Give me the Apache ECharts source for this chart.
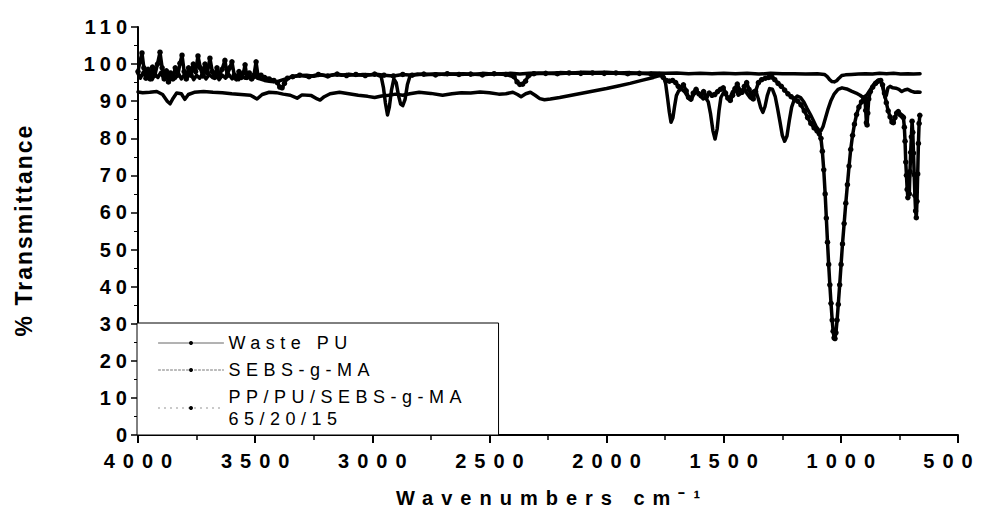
<!DOCTYPE html>
<html>
<head>
<meta charset="utf-8">
<script src="https://cdn.jsdelivr.net/npm/echarts@6.0.0/dist/echarts.min.js"></script>
<style>
  html, body { margin: 0; padding: 0; background: #fff; }
  #chart { width: 981px; height: 519px; }
</style>
</head>
<body>
<div id="chart"></div>
<script>
// FTIR spectra: [wavenumber (cm-1), % transmittance]
const wastePu = [[4000,92.5],[3980,92.3],[3950,92.4],[3920,92.6],[3895,91.8],[3875,90.0],[3863,89.3],[3850,90.8],[3835,92.2],[3815,92.0],[3800,90.5],[3785,91.8],[3760,92.4],[3720,92.6],[3680,92.4],[3640,92.3],[3600,92.0],[3560,91.8],[3520,91.6],[3492,90.6],[3470,91.8],[3440,92.4],[3410,92.3],[3380,91.9],[3350,91.6],[3321,90.8],[3300,91.7],[3260,91.5],[3235,90.6],[3223,90.3],[3205,91.2],[3180,92.0],[3140,92.4],[3100,92.0],[3060,91.6],[3020,91.3],[2990,91.0],[2960,91.4],[2930,91.6],[2900,91.9],[2870,91.6],[2840,92.0],[2800,92.4],[2750,92.1],[2700,91.6],[2660,92.0],[2620,92.3],[2580,92.2],[2540,92.5],[2500,92.3],[2460,91.9],[2430,92.0],[2400,92.4],[2380,91.8],[2365,91.2],[2345,92.0],[2325,92.4],[2305,91.6],[2285,90.7],[2265,90.4],[2240,90.6],[2200,91.0],[2150,91.6],[2100,92.2],[2050,92.8],[2000,93.4],[1950,94.1],[1900,94.8],[1850,95.6],[1800,96.4],[1770,97.0],[1757,96.6],[1748,94.8],[1740,91.0],[1732,87.0],[1725,84.3],[1717,85.5],[1710,88.5],[1702,91.5],[1692,92.8],[1680,93.3],[1665,92.4],[1650,90.8],[1640,90.3],[1628,91.8],[1615,92.6],[1600,91.6],[1588,90.6],[1578,91.0],[1566,89.8],[1556,86.5],[1546,82.0],[1537,79.8],[1528,82.5],[1520,87.5],[1512,91.0],[1500,92.4],[1488,91.4],[1475,90.6],[1462,92.6],[1450,93.2],[1438,91.6],[1425,92.2],[1412,93.4],[1400,92.0],[1388,91.0],[1376,92.6],[1364,93.0],[1352,90.6],[1342,88.2],[1333,87.0],[1324,88.5],[1314,91.5],[1304,93.4],[1292,93.2],[1280,91.2],[1270,88.0],[1260,84.5],[1250,80.8],[1240,79.2],[1230,80.6],[1220,84.8],[1210,88.4],[1198,90.6],[1186,91.4],[1172,91.0],[1158,89.8],[1144,88.0],[1130,86.4],[1116,84.6],[1104,83.0],[1094,82.2],[1085,82.0],[1076,83.2],[1066,85.4],[1054,88.0],[1042,90.2],[1028,92.0],[1012,93.2],[995,93.6],[975,93.3],[955,92.7],[935,92.2],[918,91.6],[905,91.0],[890,91.6],[875,93.0],[860,94.5],[848,95.3],[838,95.7],[828,95.2],[820,93.4],[812,91.0],[806,91.6],[799,93.6],[790,94.0],[778,93.6],[765,93.5],[752,93.2],[740,92.6],[728,93.0],[715,93.2],[700,92.7],[685,92.4],[672,92.5],[662,92.4]];

const sebsGMa = [[4000,97.4],[3990,96.2],[3978,97.8],[3965,96.4],[3952,97.6],[3940,95.8],[3928,97.2],[3915,96.4],[3902,97.8],[3890,96.0],[3878,97.4],[3865,95.6],[3852,96.8],[3840,96.2],[3828,97.6],[3815,96.0],[3802,97.2],[3790,96.4],[3776,97.6],[3762,95.8],[3750,97.0],[3737,96.2],[3724,97.4],[3710,96.0],[3696,97.2],[3682,96.4],[3668,97.6],[3654,95.8],[3640,97.0],[3626,96.2],[3612,97.2],[3598,96.0],[3584,96.8],[3570,95.8],[3556,96.8],[3542,96.2],[3528,97.0],[3514,96.0],[3500,96.6],[3480,96.0],[3460,95.6],[3440,95.4],[3420,95.2],[3400,95.4],[3380,95.8],[3360,96.2],[3340,96.6],[3310,96.9],[3280,97.0],[3250,96.7],[3220,97.1],[3190,96.8],[3160,97.2],[3130,97.0],[3100,97.3],[3070,97.0],[3040,97.2],[3010,97.1],[2985,97.2],[2962,96.6],[2952,93.5],[2944,89.5],[2935,86.3],[2927,88.5],[2918,93.0],[2908,96.0],[2898,95.0],[2888,91.5],[2879,89.2],[2870,88.8],[2860,90.5],[2850,94.5],[2838,97.0],[2810,97.3],[2770,97.1],[2730,97.4],[2690,97.2],[2650,97.3],[2610,97.4],[2570,97.2],[2530,97.5],[2490,97.3],[2450,97.4],[2410,97.5],[2370,97.3],[2330,97.5],[2290,97.6],[2250,97.5],[2200,97.7],[2150,97.6],[2100,97.8],[2050,97.7],[2000,97.8],[1950,97.6],[1900,97.7],[1850,97.5],[1800,97.6],[1750,97.5],[1700,97.6],[1650,97.4],[1600,97.5],[1550,97.4],[1500,97.5],[1450,97.4],[1400,97.5],[1350,97.3],[1300,97.5],[1250,97.4],[1200,97.4],[1150,97.3],[1100,97.4],[1070,97.2],[1058,96.6],[1048,95.8],[1038,95.3],[1028,95.2],[1018,95.5],[1008,96.2],[996,96.9],[980,97.1],[955,97.2],[925,97.3],[895,97.4],[865,97.3],[835,97.5],[805,97.4],[775,97.5],[745,97.3],[715,97.4],[690,97.3],[662,97.4]];

const blend = [[4000,98.0],[3992,100.6],[3983,103.0],[3975,99.0],[3966,96.2],[3957,98.6],[3948,96.0],[3938,99.2],[3928,97.0],[3917,100.0],[3906,103.2],[3897,99.0],[3888,96.0],[3879,98.2],[3870,95.2],[3861,97.6],[3851,96.0],[3841,99.0],[3830,97.0],[3821,100.2],[3812,102.4],[3803,98.0],[3794,96.0],[3784,99.0],[3774,97.0],[3764,100.0],[3754,98.0],[3744,102.2],[3734,99.0],[3724,96.8],[3714,100.0],[3704,97.6],[3693,101.6],[3683,98.0],[3673,96.4],[3663,99.0],[3652,97.0],[3641,98.6],[3629,101.0],[3619,97.0],[3609,99.0],[3599,100.6],[3589,97.0],[3579,96.0],[3569,98.0],[3559,96.4],[3550,97.6],[3543,99.8],[3535,96.4],[3525,97.6],[3515,96.0],[3505,97.0],[3496,100.6],[3487,96.4],[3475,97.0],[3460,96.4],[3440,96.0],[3420,95.6],[3405,95.0],[3395,93.8],[3385,93.6],[3375,94.8],[3362,96.2],[3340,96.6],[3310,97.0],[3270,96.6],[3230,97.2],[3190,96.8],[3150,97.3],[3110,96.9],[3070,97.2],[3030,96.9],[2990,97.3],[2950,97.0],[2910,96.8],[2870,97.2],[2830,97.0],[2780,97.3],[2730,97.1],[2680,97.4],[2630,97.2],[2580,97.3],[2530,97.1],[2480,97.4],[2430,97.2],[2395,96.6],[2382,95.2],[2370,94.5],[2358,94.6],[2346,95.4],[2334,96.8],[2310,97.4],[2260,97.5],[2210,97.4],[2160,97.6],[2110,97.5],[2060,97.6],[2010,97.5],[1960,97.6],[1910,97.4],[1860,97.5],[1810,97.3],[1775,97.2],[1758,96.4],[1745,95.6],[1732,95.4],[1718,95.6],[1705,95.0],[1694,94.0],[1684,93.6],[1672,94.4],[1660,92.8],[1650,91.0],[1640,90.6],[1630,92.2],[1618,93.2],[1606,92.0],[1596,91.4],[1586,92.6],[1574,91.2],[1562,92.2],[1550,91.6],[1538,91.8],[1526,92.6],[1514,93.2],[1502,93.6],[1492,92.2],[1482,90.8],[1472,90.2],[1462,91.6],[1452,93.4],[1442,94.6],[1432,93.0],[1422,92.4],[1412,94.0],[1402,95.0],[1392,93.2],[1382,91.0],[1374,90.6],[1364,92.6],[1352,95.0],[1338,95.8],[1322,96.2],[1308,96.4],[1294,96.5],[1282,95.8],[1268,94.8],[1254,94.0],[1240,93.0],[1226,92.0],[1212,91.2],[1198,90.6],[1184,90.0],[1170,89.0],[1156,87.4],[1142,85.6],[1128,84.0],[1114,82.8],[1102,82.0],[1092,81.2],[1085,80.0],[1079,76.5],[1073,71.5],[1067,65.0],[1062,58.5],[1057,52.0],[1052,46.0],[1047,40.5],[1042,35.5],[1037,31.0],[1033,28.0],[1029,26.2],[1025,26.0],[1021,27.6],[1016,31.0],[1011,35.2],[1005,40.5],[999,46.0],[993,51.5],[986,57.0],[979,62.5],[972,67.5],[965,72.5],[958,77.0],[950,80.8],[942,83.8],[933,86.4],[923,88.4],[912,89.8],[902,90.6],[897,90.8],[894,87.5],[891,84.2],[888,83.6],[885,86.8],[881,90.6],[874,92.6],[864,93.8],[852,94.8],[840,95.4],[830,95.6],[822,94.4],[814,92.2],[806,89.6],[798,87.4],[790,85.8],[782,84.4],[776,84.2],[769,85.6],[762,86.8],[755,87.2],[747,86.4],[739,86.0],[733,85.6],[729,83.0],[726,79.2],[723,73.6],[720,70.0],[717,66.2],[714,64.0],[711,69.6],[708,65.0],[705,71.0],[702,76.2],[699,80.4],[696,84.6],[693,81.6],[690,76.0],[687,70.2],[684,64.6],[681,60.4],[678,58.6],[675,63.0],[672,70.4],[669,78.6],[666,84.0],[663,86.2]];

const seriesNames = ['Waste PU', 'SEBS-g-MA', 'PP/PU/SEBS-g-MA\n65/20/15'];

const FONT = '"Liberation Sans", Arial, Helvetica, sans-serif';

const chart = echarts.init(document.getElementById('chart'), null, { renderer: 'svg' });

chart.setOption({
  animation: false,
  backgroundColor: '#ffffff',
  grid: { left: 138, right: 23, top: 27, bottom: 84, containLabel: false },
  legend: {
    orient: 'vertical',
    left: 137,
    top: 323,
    padding: [9, 114, 5, 21],
    backgroundColor: '#ffffff',
    borderColor: '#000',
    borderWidth: 1,
    itemWidth: 65,
    itemHeight: 5,
    itemGap: 5,
    selectedMode: false,
    textStyle: { fontFamily: FONT, fontSize: 18, color: '#000', lineHeight: 22 },
    data: [
      { name: seriesNames[0], lineStyle: { color: '#666', width: 1, type: 'solid' }, itemStyle: { color: '#000' } },
      { name: seriesNames[1], lineStyle: { color: '#777', width: 1, type: [2, 2] }, itemStyle: { color: '#000' } },
      { name: seriesNames[2], lineStyle: { color: '#888', width: 1, type: [1, 5] }, itemStyle: { color: '#000' } }
    ]
  },
  xAxis: {
    type: 'value',
    inverse: true,
    min: 500,
    max: 4000,
    interval: 500,
    name: 'Wavenumbers cm\u207B\u00B9',
    nameLocation: 'middle',
    nameGap: 53,
    nameTextStyle: { fontFamily: FONT, fontSize: 20, fontWeight: 'bold', color: '#000' },
    axisLine: { show: true, onZero: false, lineStyle: { color: '#000', width: 2 } },
    axisTick: { show: true, inside: false, length: 8, lineStyle: { color: '#000', width: 2 } },
    minorTick: { show: true, splitNumber: 2, length: 5, lineStyle: { color: '#000', width: 1.5 } },
    axisLabel: {
      margin: 16, fontFamily: FONT, fontSize: 20, fontWeight: 'bold', color: '#000',
      showMinLabel: true, showMaxLabel: true, hideOverlap: false,
      formatter: function (v) { return String(v); }
    },
    splitLine: { show: false },
    minorSplitLine: { show: false }
  },
  yAxis: {
    type: 'value',
    min: 0,
    max: 110,
    interval: 10,
    name: '% Transmittance',
    nameLocation: 'middle',
    nameRotate: 90,
    nameGap: 103,
    nameTextStyle: { fontFamily: FONT, fontSize: 23, fontWeight: 'bold', color: '#000' },
    axisLine: { show: true, onZero: false, lineStyle: { color: '#000', width: 2 } },
    axisTick: { show: true, inside: false, length: 7, lineStyle: { color: '#000', width: 1.5 } },
    minorTick: { show: true, splitNumber: 2, length: 4, lineStyle: { color: '#000', width: 1 } },
    axisLabel: {
      margin: 11, fontFamily: FONT, fontSize: 20, fontWeight: 'bold', color: '#000',
      showMinLabel: true, showMaxLabel: true,
      formatter: function (v) { return String(v); }
    },
    splitLine: { show: false },
    minorSplitLine: { show: false }
  },
  series: [
    {
      name: seriesNames[0], type: 'line', data: wastePu, silent: true,
      symbol: 'circle', symbolSize: 4, showSymbol: false,
      lineStyle: { color: '#000', width: 3.5, join: 'round', cap: 'round' },
      itemStyle: { color: '#000' }, z: 2
    },
    {
      name: seriesNames[1], type: 'line', data: sebsGMa, silent: true,
      symbol: 'circle', symbolSize: 4, showSymbol: false,
      lineStyle: { color: '#000', width: 3.5, join: 'round', cap: 'round' },
      itemStyle: { color: '#000' }, z: 3
    },
    {
      name: seriesNames[2], type: 'line', data: blend, silent: true,
      symbol: 'circle', symbolSize: 5.5, showSymbol: true, showAllSymbol: true,
      lineStyle: { color: '#000', width: 3.5, join: 'round', cap: 'round' },
      itemStyle: { color: '#000', borderWidth: 0 }, z: 4
    }
  ]
});

// Widen the letter spacing of the axis and legend texts after each render.
const spacing = { yLabel: 5, xLabel: 8, xName: 8, yName: 2, legend: 5.5 };
function applySpacing() {
  document.querySelectorAll('#chart text').forEach(function (t) {
    const s = t.textContent.trim();
    const anchor = t.getAttribute('text-anchor') || 'start';
    let sp = 0;
    if (/^\d+$/.test(s)) sp = anchor === 'end' ? spacing.yLabel : spacing.xLabel;
    else if (s.indexOf('Wavenumbers') === 0) sp = spacing.xName;
    else if (s === '% Transmittance') sp = spacing.yName;
    else if (s !== '') sp = spacing.legend;
    if (!sp) return;
    t.setAttribute('letter-spacing', sp + 'px');
    let shift = anchor === 'end' ? sp : (anchor === 'middle' ? sp / 2 : 0);
    // keep the right-most tick label inside the page
    if (anchor === 'middle' && s === '500') shift -= 10;
    if (shift) t.setAttribute('dx', shift);
  });
}
chart.on('finished', applySpacing);
applySpacing();
setTimeout(applySpacing, 0);
</script>
</body>
</html>
